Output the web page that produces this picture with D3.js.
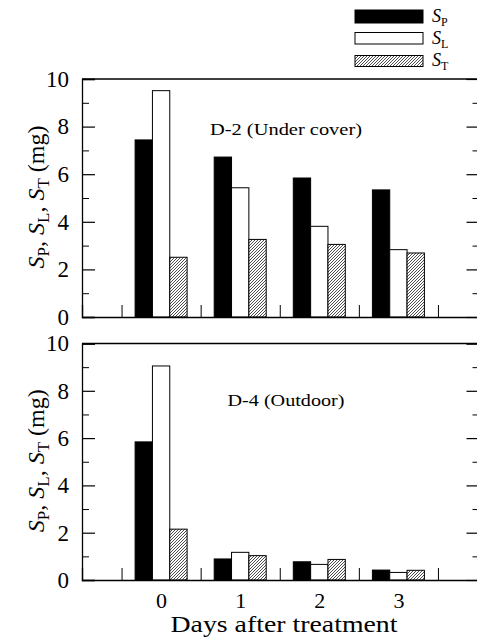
<!DOCTYPE html>
<html><head><meta charset="utf-8">
<script src="https://cdn.jsdelivr.net/npm/d3@7"></script>
<style>
body{margin:0;background:#fff;}
svg{display:block;}
svg text{font-family:"Liberation Serif","Times New Roman",serif !important;fill:#000;}
</style></head>
<body><svg id="c" width="477" height="643"></svg>
<script>
const days = [0, 1, 2, 3];
const seriesKeys = ["SP", "SL", "ST"];
const seriesSubs = ["P", "L", "T"];
const yTicks = [0, 2, 4, 6, 8, 10];
const yMinorTicks = [1, 3, 5, 7, 9];
const separators = [-0.5, 0.5, 1.5, 2.5, 3.5];
// D-2 (Under cover)
const spCover = [7.44, 6.72, 5.84, 5.34];
const slCover = [9.51, 5.43, 3.81, 2.83];
const stCover = [2.51, 3.26, 3.05, 2.69];
// D-4 (Outdoor)
const spOut = [5.84, 0.89, 0.77, 0.42];
const slOut = [9.05, 1.17, 0.66, 0.32];
const stOut = [2.15, 1.03, 0.87, 0.41];
const panelTitles = ["D-2 (Under cover)", "D-4 (Outdoor)"];

const svg = d3.select("#c");
const defs = svg.append("defs");
const pat = defs.append("pattern").attr("id","hatch").attr("patternUnits","userSpaceOnUse")
  .attr("width",3).attr("height",3);
pat.append("rect").attr("width",3).attr("height",3).attr("fill","#fff");
pat.append("path").attr("d","M-0.75,0.75 L0.75,-0.75 M0,3 L3,0 M2.25,3.75 L3.75,2.25")
  .attr("stroke","#000").attr("stroke-width",0.7);

const fills = {SP:"#000", SL:"#fff", ST:"url(#hatch)"};
const x = d3.scaleLinear().domain([-1, 4]).range([82, 477.5]);
const inner = d3.scaleBand().domain(seriesKeys).range([-26, 26]).padding(0);

const panels = [
  {top:79, bottom:317, data:[spCover, slCover, stCover], title:panelTitles[0], tx:286, ty:134.5, tl:152},
  {top:343.5, bottom:580, data:[spOut, slOut, stOut], title:panelTitles[1], tx:286, ty:405.5, tl:117}
];

panels.forEach((p, pi) => {
  const y = d3.scaleLinear().domain([0, 10]).range([p.bottom, p.top]);
  const g = svg.append("g");
  days.forEach((d, di) => {
    seriesKeys.forEach((k, ki) => {
      const v = p.data[ki][di];
      g.append("rect")
        .attr("x", x(d) + inner(k))
        .attr("y", y(v))
        .attr("width", inner.bandwidth())
        .attr("height", y(0) - y(v))
        .attr("fill", fills[k])
        .attr("stroke", "#000").attr("stroke-width", 1);
    });
  });
  const la = g.append("g").attr("transform", `translate(${x(-1)},0)`)
    .call(d3.axisLeft(y).tickValues(yTicks).tickSize(-13).tickPadding(13).tickFormat(d3.format("d")));
  la.selectAll("text").style("font-size", "23px");
  la.select(".domain").attr("stroke-width", 1.3);
  la.selectAll(".tick line").attr("stroke-width", 1.2);
  g.append("g").attr("transform", `translate(${x(-1)},0)`)
    .call(d3.axisLeft(y).tickValues(yMinorTicks).tickSize(-7).tickFormat(""))
    .call(s => s.select(".domain").remove());
  const ra = g.append("g").attr("transform", `translate(${x(4)},0)`)
    .call(d3.axisRight(y).tickValues(yTicks).tickSize(-11).tickFormat(""));
  ra.selectAll(".tick line").attr("stroke-width", 1.2);
  g.append("g").attr("transform", `translate(${x(4)},0)`)
    .call(d3.axisRight(y).tickValues(yMinorTicks).tickSize(-5).tickFormat(""))
    .call(s => s.select(".domain").remove());
  g.append("line").attr("x1", x(-1)).attr("x2", x(4)).attr("y1", y(10)).attr("y2", y(10))
    .attr("stroke", "#000").attr("stroke-width", 1.3);
  const ba = g.append("g").attr("transform", `translate(0,${y(0)})`)
    .call(d3.axisBottom(x).tickValues(separators).tickSize(-12).tickFormat(""));
  ba.select(".domain").attr("stroke-width", 1.3);
  if (pi === 1) {
    const bl = g.append("g").attr("transform", `translate(0,${y(0)})`)
      .call(d3.axisBottom(x).tickValues(days).tickSize(0).tickPadding(12).tickFormat(d3.format("d")));
    bl.select(".domain").remove();
    bl.selectAll("text").style("font-size", "22px");
  }
  g.append("text").attr("x", p.tx).attr("y", p.ty).attr("text-anchor","middle")
    .style("font-size", "16px").attr("textLength", p.tl).attr("lengthAdjust", "spacingAndGlyphs")
    .text(p.title);
  const yl = g.append("text")
    .attr("transform", `translate(44,${(p.top + p.bottom) / 2 - 1}) rotate(-90)`)
    .attr("text-anchor", "middle").style("font-size", "24px");
  seriesSubs.forEach((s, i) => {
    yl.append("tspan").style("font-style", "italic").text("S");
    yl.append("tspan").style("font-size", "17px").attr("dy", 5).text(s);
    yl.append("tspan").attr("dy", -5).text(i < 2 ? ", " : " (mg)");
  });
});

svg.append("text").attr("x", 284).attr("y", 632).attr("text-anchor", "middle")
  .style("font-size", "23px").attr("textLength", 227).attr("lengthAdjust", "spacingAndGlyphs")
  .text("Days after treatment");

const legY = [10, 32.5, 55.5];
const legH = [13, 11.5, 11];
const legBase = [21.7, 44, 65.5];
seriesKeys.forEach((k, i) => {
  svg.append("rect").attr("x", 355).attr("y", legY[i]).attr("width", 68).attr("height", legH[i])
    .attr("fill", fills[k]).attr("stroke", "#000").attr("stroke-width", 1);
  const t = svg.append("text").attr("x", 432).attr("y", legBase[i]).style("font-size", "18px");
  t.append("tspan").style("font-style", "italic").text("S");
  t.append("tspan").style("font-size", "12px").attr("dy", 4).text(seriesSubs[i]);
});
</script></body></html>
